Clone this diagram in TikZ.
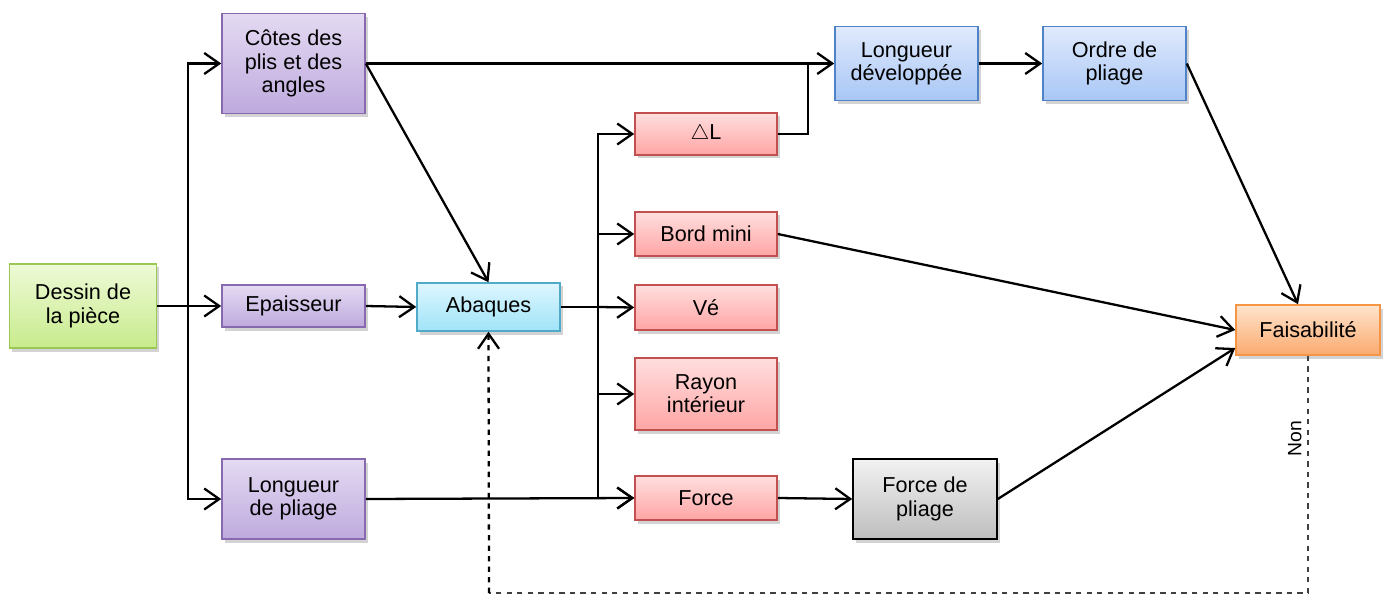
\documentclass[tikz,border=0pt]{standalone}
\usepackage{fontspec}
\setmainfont{Liberation Sans}
\usetikzlibrary{calc}
\usetikzlibrary{arrows.meta}
\usetikzlibrary{shadows}

\definecolor{grnB}{RGB}{155,200,85}
\definecolor{grnT}{RGB}{238,250,215}
\definecolor{grnD}{RGB}{200,235,140}
\definecolor{purB}{RGB}{135,105,175}
\definecolor{purT}{RGB}{228,218,242}
\definecolor{purD}{RGB}{190,170,222}
\definecolor{cyaB}{RGB}{80,170,200}
\definecolor{cyaT}{RGB}{222,246,255}
\definecolor{cyaD}{RGB}{160,228,248}
\definecolor{redB}{RGB}{195,80,80}
\definecolor{redT}{RGB}{255,222,222}
\definecolor{redD}{RGB}{255,165,165}
\definecolor{bluB}{RGB}{80,130,200}
\definecolor{bluT}{RGB}{224,234,252}
\definecolor{bluD}{RGB}{168,198,245}
\definecolor{gryT}{RGB}{242,242,242}
\definecolor{gryD}{RGB}{190,190,190}
\definecolor{oraB}{RGB}{245,150,70}
\definecolor{oraT}{RGB}{255,228,205}
\definecolor{oraD}{RGB}{250,170,110}

\tikzset{
  box/.style={draw, line width=0.9pt, align=center, minimum width=2.86cm,
    font=\fontsize{12.3}{13.2}\selectfont, inner sep=2pt,
    drop shadow={opacity=0.35, shadow xshift=0.05cm, shadow yshift=-0.07cm}},
  greenbox/.style={box, draw=grnB, top color=grnT, bottom color=grnD},
  purplebox/.style={box, draw=purB, top color=purT, bottom color=purD},
  cyanbox/.style={box, draw=cyaB, top color=cyaT, bottom color=cyaD},
  redbox/.style={box, draw=redB, top color=redT, bottom color=redD, minimum width=2.84cm},
  bluebox/.style={box, draw=bluB, top color=bluT, bottom color=bluD},
  greybox/.style={box, draw=black, top color=gryT, bottom color=gryD},
  orangebox/.style={box, draw=oraB, top color=oraT, bottom color=oraD, minimum width=2.88cm},
  arr/.style={line width=1.3pt, -{Straight Barb[length=3mm,width=4.2mm]}},
  ln/.style={line width=1.3pt},
}

\begin{document}
\begin{tikzpicture}

\useasboundingbox (0,0) rectangle (27.72,-11.9);

\node[greenbox, minimum height=1.68cm, minimum width=2.94cm] (dessin) at (1.66,-6.12) {Dessin de\\la pièce};
\node[purplebox, minimum height=2.0cm] (cotes) at (5.87,-1.27) {Côtes des\\plis et des\\angles};
\node[purplebox, minimum height=0.84cm] (epais) at (5.87,-6.12) {Epaisseur};
\node[purplebox, minimum height=1.6cm] (lpliage) at (5.87,-9.98) {Longueur\\de pliage};
\node[cyanbox, minimum height=0.96cm] (abaques) at (9.77,-6.14) {Abaques};

\node[redbox, minimum height=0.84cm] (dl) at (14.12,-2.68) {$\triangle$L};
\node[redbox, minimum height=0.88cm] (bord) at (14.12,-4.68) {Bord mini};
\node[redbox, minimum height=0.9cm] (ve) at (14.12,-6.15) {Vé};
\node[redbox, minimum height=1.44cm] (rayon) at (14.12,-7.88) {Rayon\\intérieur};
\node[redbox, minimum height=0.88cm] (force) at (14.12,-9.96) {Force};

\node[greybox, minimum height=1.6cm, minimum width=2.88cm] (fpliage) at (18.5,-9.98) {Force de\\pliage};
\node[bluebox, minimum height=1.48cm] (ldev) at (18.13,-1.27) {Longueur\\développée};
\node[bluebox, minimum height=1.48cm] (ordre) at (22.29,-1.27) {Ordre de\\pliage};
\node[orangebox, minimum height=1.0cm] (fais) at (26.16,-6.6) {Faisabilité};

\coordinate (b1) at (3.76,-6.12);
\coordinate (b2) at (11.96,-6.14);
\coordinate (b3) at (16.16,-2.68);
\coordinate (bas) at (9.78,-11.86);

\draw[ln] (dessin.east) -- (b1);
\draw[arr] (b1) |- (cotes.west);
\draw[arr] (b1) -- (epais.west);
\draw[arr] (b1) |- (lpliage.west);

\draw[arr] (cotes.east) -- (ldev.west);
\draw[arr] (cotes.east) -- (abaques.north);
\draw[arr] (epais.east) -- (abaques.west);

\draw[ln] (abaques.east) -- (b2);
\draw[arr] (b2) |- (dl.west);
\draw[arr] (b2) |- (bord.west);
\draw[arr] (b2) -- (ve.west);
\draw[arr] (b2) |- (rayon.west);
\draw[arr] (b2) |- (force.west);

\draw[arr] (lpliage.east) -- (force.west);
\draw[ln] (dl.east) -- (b3) |- (cotes.east -| b3);

\draw[arr] (force.east) -- (fpliage.west);
\draw[arr] (ldev.east) -- (ordre.west);
\draw[arr] (ordre.east) -- ([xshift=-0.2cm]fais.north);
\draw[arr] (bord.east) -- (fais.west);
\draw[arr] (fpliage.east) -- ([yshift=-0.36cm]fais.west);

\draw[dashed, line width=0.7pt, black!75] (fais.south) -- (fais.south |- bas)
  node[pos=0.35, above, rotate=90, font=\fontsize{11}{12}\selectfont, text=black] {Non}
  -- (bas);
\draw[dashed, line width=1.3pt, -{Straight Barb[length=3mm,width=4.2mm]}] (bas) -- (abaques.south);

\end{tikzpicture}
\end{document}
